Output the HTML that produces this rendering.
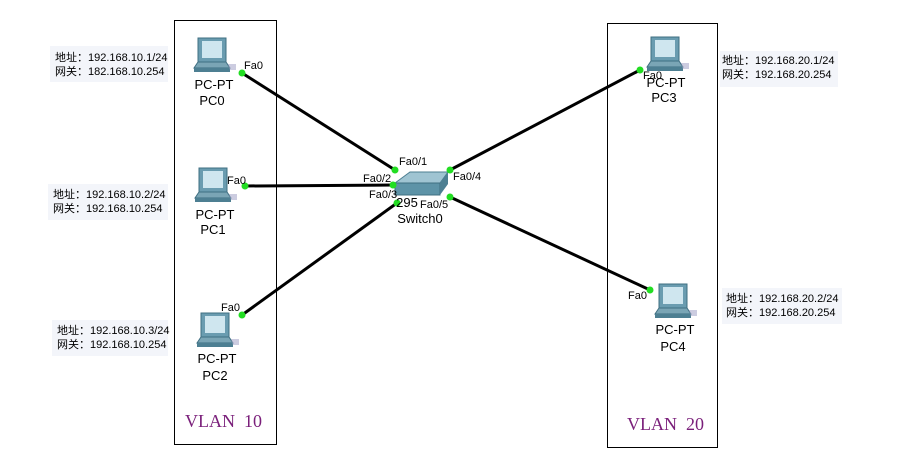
<!DOCTYPE html>
<html><head><meta charset="utf-8"><style>
body{margin:0;width:900px;height:457px;background:#fff;overflow:hidden;font-family:"Liberation Sans","Noto Sans CJK SC",sans-serif}
</style></head><body>
<svg width="900" height="457" xmlns="http://www.w3.org/2000/svg" font-family="Liberation Sans, Noto Sans CJK SC, sans-serif">
<defs>
<g id="pc">
<rect x="4" y="0" width="28" height="24" fill="#6a9cb0" stroke="#3f6f82"/>
<rect x="8" y="3" width="20" height="17" fill="#cfe6ef"/>
<polygon points="0,30 36,30 32,24 4,24" fill="#7aa5b5" stroke="#3f6f82"/>
<rect x="0" y="30" width="36" height="4" fill="#4d7f92"/>
<polygon points="34,26 42,26 42,32 36,32" fill="#aac" opacity=".6"/>
</g>
</defs>
<rect x="174.5" y="20.5" width="102" height="424" fill="none" stroke="#000"/>
<rect x="607.5" y="23.5" width="110" height="424" fill="none" stroke="#000"/>
<g fill="#f3f5fa">
<rect x="50" y="46" width="118" height="36"/>
<rect x="48" y="184" width="120" height="36"/>
<rect x="52" y="320" width="116" height="36"/>
<rect x="720" y="51" width="118" height="36"/>
<rect x="722" y="288" width="120" height="36"/>
</g>
<g font-size="11" fill="#000">
<text x="55" y="61">地址：192.168.10.1/24</text><text x="55" y="75">网关：182.168.10.254</text>
<text x="53" y="198">地址：192.168.10.2/24</text><text x="53" y="212">网关：192.168.10.254</text>
<text x="57" y="334">地址：192.168.10.3/24</text><text x="57" y="348">网关：192.168.10.254</text>
<text x="722" y="64">地址：192.168.20.1/24</text><text x="722" y="78">网关：192.168.20.254</text>
<text x="726" y="302">地址：192.168.20.2/24</text><text x="726" y="316">网关：192.168.20.254</text>
</g>
<g stroke="#000" stroke-width="3">
<line x1="242" y1="73" x2="395" y2="170"/>
<line x1="245" y1="186" x2="393" y2="185"/>
<line x1="242" y1="315" x2="397" y2="203"/>
<line x1="640" y1="70" x2="450" y2="170"/>
<line x1="650" y1="290" x2="450" y2="197"/>
</g>
<use href="#pc" x="194" y="38"/>
<use href="#pc" x="195" y="168"/>
<use href="#pc" x="197" y="313"/>
<use href="#pc" x="647" y="37"/>
<use href="#pc" x="655" y="284"/>
<polygon points="395,183 410,172 448,172 440,183" fill="#9fc4d2" stroke="#4d7f92"/>
<rect x="395" y="183" width="45" height="12" fill="#5d93a7" stroke="#3f6f82"/>
<polygon points="440,183 448,172 448,184 440,195" fill="#4d7f92"/>
<g fill="#22dd22">
<circle cx="242" cy="73" r="3.5"/><circle cx="245" cy="186" r="3.5"/><circle cx="242" cy="315" r="3.5"/>
<circle cx="640" cy="70" r="3.5"/><circle cx="650" cy="290" r="3.5"/>
<circle cx="395" cy="170" r="3.5"/><circle cx="393" cy="185" r="3.5"/><circle cx="397" cy="203" r="3.5"/>
<circle cx="450" cy="170" r="3.5"/><circle cx="450" cy="197" r="3.5"/>
</g>
<g font-size="13" text-anchor="middle" fill="#000">
<text x="214" y="89">PC-PT</text><text x="212" y="105">PC0</text>
<text x="215" y="219">PC-PT</text><text x="213" y="234">PC1</text>
<text x="217" y="363">PC-PT</text><text x="215" y="380">PC2</text>
<text x="666" y="87">PC-PT</text><text x="664" y="102">PC3</text>
<text x="675" y="334">PC-PT</text><text x="673" y="351">PC4</text>
<text x="420" y="223">Switch0</text>
<text x="407" y="207">295</text>
</g>
<g font-size="11" fill="#000">
<text x="244" y="69">Fa0</text><text x="227" y="184">Fa0</text><text x="221" y="311">Fa0</text>
<text x="643" y="79">Fa0</text><text x="628" y="299">Fa0</text>
<text x="399" y="165">Fa0/1</text><text x="363" y="182">Fa0/2</text><text x="369" y="198">Fa0/3</text>
<text x="453" y="180">Fa0/4</text><text x="420" y="208">Fa0/5</text>
</g>
<g font-family="Liberation Serif, serif" font-size="18" fill="#7a1f7a">
<text x="185" y="427" xml:space="preserve">VLAN  10</text>
<text x="627" y="430" xml:space="preserve">VLAN  20</text>
</g>
</svg>
</body></html>
